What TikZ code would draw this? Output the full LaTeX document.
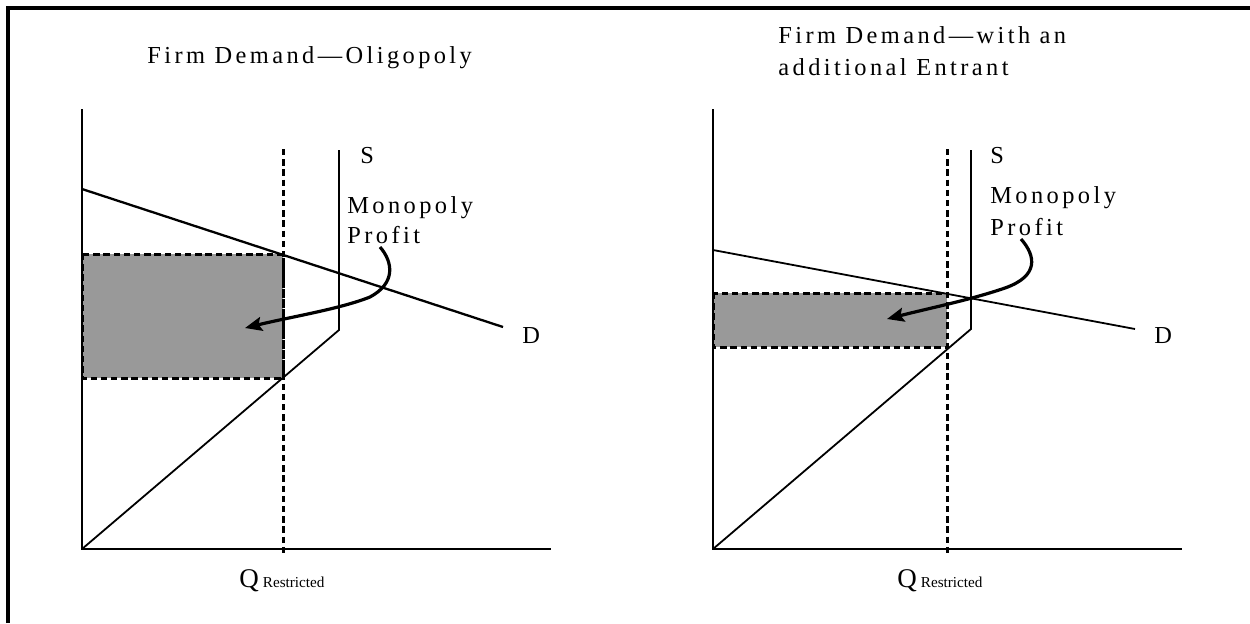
\documentclass[tikz,border=0pt]{standalone}
\usepackage{fontspec}
\setmainfont{Liberation Serif}
\newfontfamily\tracked[LetterSpace=14]{Liberation Serif}
\usetikzlibrary{arrows.meta}
\definecolor{profgray}{gray}{0.6}
\begin{document}
\begin{tikzpicture}[x=0.5pt,y=-0.5pt,
  thinline/.style={line width=0.9pt},
  dline/.style={line width=1.15pt},
  dashline/.style={line width=1.5pt, dash pattern=on 3.2pt off 1.9pt},
  profitfill/.style={fill=profgray},
  lbl/.style={inner sep=0pt, anchor=base west, font=\tracked\fontsize{12.2}{14}\selectfont},
  plainlbl/.style={inner sep=0pt, anchor=base west, font=\fontsize{12.2}{14}\selectfont},
  qlbl/.style={inner sep=0pt, anchor=base west},
  profarrow/.style={line width=1.6pt, -{Stealth[length=8.5pt,width=7pt,inset=1.5pt]}},
  frameline/.style={line width=1.6pt}
]
\useasboundingbox (0,0) rectangle (1250,623);
% frame
\draw[frameline] (8,623) -- (8,8) -- (1250,8);

% ---------------- left chart ----------------
\coordinate (lO) at (82,549);
\coordinate (lYtop) at (82,109);
\coordinate (lXend) at (551,549);
\coordinate (lStop) at (339,150);
\coordinate (lSkink) at (339,330);
\coordinate (lDs) at (82,189);
\coordinate (lDe) at (503,327);
\coordinate (lQtop) at (283,149);
\coordinate (lQbot) at (283,553);
\coordinate (lR1) at (82,254);
\coordinate (lR2) at (283,378);

\fill[profitfill] (lR1) rectangle (lR2);
\draw[thinline] (lYtop) -- (lO) -- (lXend);
\draw[thinline] (lStop) -- (lSkink) -- (lO);
\draw[dline] (lDs) -- (lDe);
\draw[dashline] (lR1) rectangle (lR2);
\draw[dashline] (lQtop) -- (lQbot);

\node[lbl] (ltitle) at (147,63) {Firm Demand—Oligopoly};
\node[plainlbl] (lS) at (360,163) {S};
\node[lbl] (lmono) at (347,213) {Monopoly};
\node[lbl] (lprof) at (347,243) {Profit};
\node[plainlbl] (lD) at (522,343) {D};
\node[qlbl] (lQ) at (239,587) {{\fontsize{13.5}{15}\selectfont Q}\kern2pt{\fontsize{7.6}{9}\selectfont Restricted}};

\coordinate (lAs) at (380,247);
\coordinate (lAm) at (370,297);
\coordinate (lAt) at (245,328);
\draw[profarrow] (lAs) .. controls (393,262) and (396,283) .. (lAm)
   .. controls (340,309) and (290,317) .. (lAt);

% ---------------- right chart ----------------
\coordinate (rO) at (713,549);
\coordinate (rYtop) at (713,109);
\coordinate (rXend) at (1182,549);
\coordinate (rStop) at (971,150);
\coordinate (rSkink) at (971,329);
\coordinate (rDs) at (713,250);
\coordinate (rDe) at (1135,329);
\coordinate (rQtop) at (947,149);
\coordinate (rQbot) at (947,553);
\coordinate (rR1) at (713,293);
\coordinate (rR2) at (947,347);

\fill[profitfill] (rR1) rectangle (rR2);
\draw[thinline] (rYtop) -- (rO) -- (rXend);
\draw[thinline] (rStop) -- (rSkink) -- (rO);
\draw[thinline] (rDs) -- (rDe);
\draw[dashline] (rR1) rectangle (rR2);
\draw[dashline] (rQtop) -- (rQbot);

\node[lbl] (rtitleA) at (778,43) {Firm Demand—with an};
\node[lbl] (rtitleB) at (778,75) {additional Entrant};
\node[plainlbl] (rS) at (990,163) {S};
\node[lbl] (rmono) at (990,203) {Monopoly};
\node[lbl] (rprof) at (990,235) {Profit};
\node[plainlbl] (rD) at (1154,343) {D};
\node[qlbl] (rQ) at (897,587) {{\fontsize{13.5}{15}\selectfont Q}\kern2pt{\fontsize{7.6}{9}\selectfont Restricted}};

\coordinate (rAs) at (1021,239);
\coordinate (rAm) at (1005,288);
\coordinate (rAt) at (887,319);
\draw[profarrow] (rAs) .. controls (1036,256) and (1039,276) .. (rAm)
   .. controls (970,300) and (930,308) .. (rAt);
\end{tikzpicture}
\end{document}
